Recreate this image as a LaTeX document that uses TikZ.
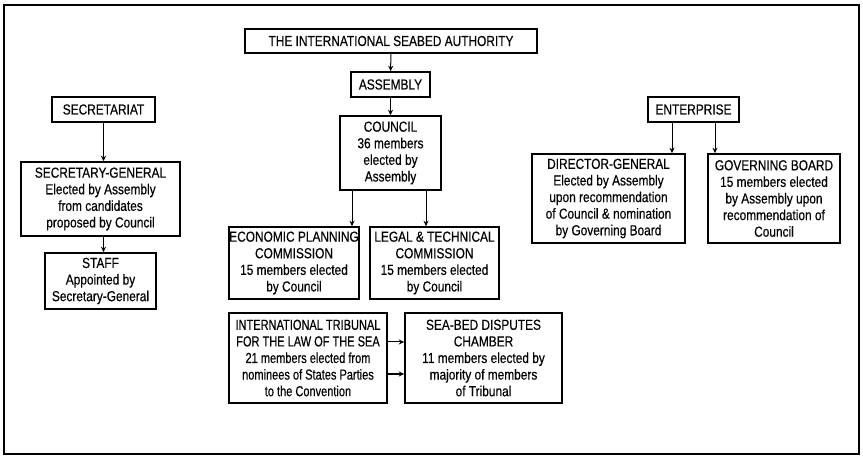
\documentclass[tikz,border=0pt]{standalone}
\usepackage{fontspec}
\setmainfont{Liberation Sans}[FakeStretch=0.82, FakeBold=0.4]
\newfontfamily\narrowfont{Liberation Sans}[FakeStretch=0.76, FakeBold=0.4]
\usetikzlibrary{arrows.meta}
\begin{document}
\begin{tikzpicture}[x=1pt, y=-1pt, inner sep=0pt,
        org/.style={draw, line width=1.6pt, align=center, font=\fontsize{14.5}{16.6}\selectfont},
        link/.style={-{Stealth[length=5.5pt,width=5pt]}, line width=1pt}]
        \useasboundingbox (0,0) rectangle (863,457);
        \draw[line width=1.3pt] (4,5) rectangle (859,454);

        \node[org, minimum width=292pt, minimum height=24pt] (isa) at (391,41) {THE INTERNATIONAL SEABED AUTHORITY};
        \node[org, minimum width=79pt, minimum height=25pt] (assembly) at (390.5,84.5) {ASSEMBLY};
        \node[org, minimum width=101pt, minimum height=74pt] (council) at (390.5,153) {COUNCIL\\36 members\\elected by\\Assembly};

        \node[org, minimum width=103pt, minimum height=25pt] (secretariat) at (103.5,109.5) {SECRETARIAT};
        \node[org, minimum width=159pt, minimum height=74pt] (secgen) at (100.5,199) {SECRETARY-GENERAL\\Elected by Assembly\\from candidates\\proposed by Council};
        \node[org, minimum width=111pt, minimum height=56pt] (staff) at (100.5,281) {STAFF\\Appointed by\\Secretary-General};

        \node[org, minimum width=130pt, minimum height=72pt] (econ) at (294,263) {ECONOMIC PLANNING\\COMMISSION\\15 members elected\\by Council};
        \node[org, minimum width=129pt, minimum height=72pt] (legal) at (434.5,263) {LEGAL \& TECHNICAL\\COMMISSION\\15 members elected\\by Council};

        \node[org, minimum width=158pt, minimum height=90pt, font=\narrowfont\fontsize{14.5}{16.6}\selectfont] (tribunal) at (308,358) {INTERNATIONAL TRIBUNAL\\FOR THE LAW OF THE SEA\\21 members elected from\\nominees of States Parties\\to the Convention};
        \node[org, minimum width=157pt, minimum height=90pt] (chamber) at (483.5,358) {SEA-BED DISPUTES\\CHAMBER\\11 members elected by\\majority of members\\of Tribunal};

        \node[org, minimum width=91pt, minimum height=25pt] (enterprise) at (693.5,109.5) {ENTERPRISE};
        \node[org, minimum width=153pt, minimum height=89pt] (dirgen) at (608.5,198.5) {DIRECTOR-GENERAL\\Elected by Assembly\\upon recommendation\\of Council \& nomination\\by Governing Board};
        \node[org, minimum width=132pt, minimum height=89pt] (board) at (774,198.5) {GOVERNING BOARD\\15 members elected\\by Assembly upon\\recommendation of\\Council};

        \draw[link] (isa) -- (assembly);
        \draw[link] (assembly) -- (council);
        \draw[link] ([xshift=-38.5pt]council.south) -- ([xshift=-38.5pt]council.south |- econ.north);
        \draw[link] ([xshift=35.5pt]council.south) -- ([xshift=35.5pt]council.south |- legal.north);

        \draw[link] (secretariat.south) -- (secretariat.south |- secgen.north);
        \draw[link] (secretariat.south |- secgen.south) -- (secretariat.south |- staff.north);

        \draw[link] ([xshift=-21.5pt]enterprise.south) -- ([xshift=-21.5pt]enterprise.south |- dirgen.north);
        \draw[link] ([xshift=21.5pt]enterprise.south) -- ([xshift=21.5pt]enterprise.south |- board.north);

        \draw[link] ([yshift=16pt]tribunal.east) -- ([yshift=16pt]chamber.west);
        \draw[link] ([yshift=-16pt]tribunal.east) -- ([yshift=-16pt]chamber.west);
    \end{tikzpicture}
\end{document}
